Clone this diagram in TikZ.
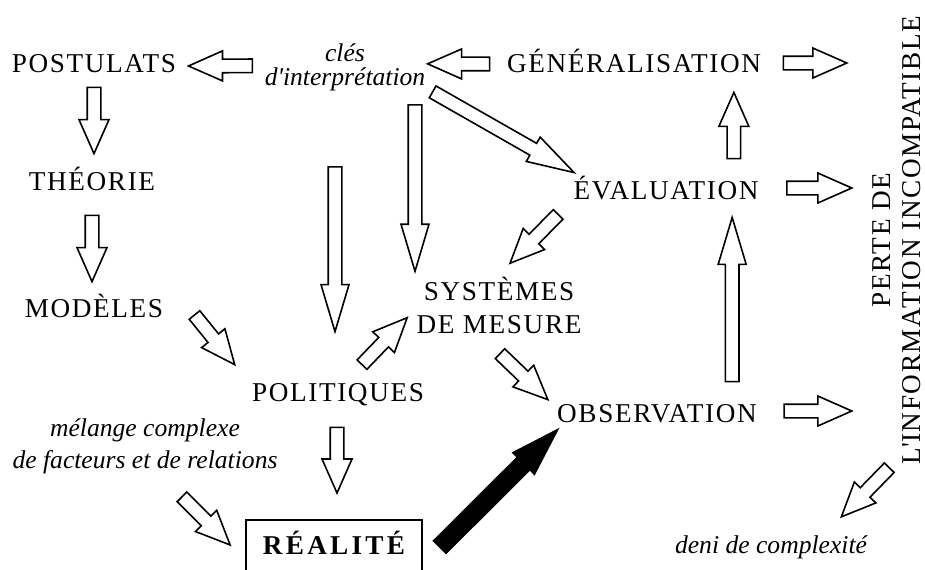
\documentclass[tikz,border=0pt]{standalone}
\usepackage{fontspec}
\setmainfont{Liberation Serif}
\newfontfamily\capsfont[LetterSpace=6]{Liberation Serif}
\usetikzlibrary{calc}

\tikzset{
  barrow/.style={draw, line width=0.8pt, fill=white, line join=miter},
  ba shaft/.store in=\bashaft, ba wing/.store in=\bawing, ba head/.store in=\bahead,
  ba shaft=3.4pt, ba wing=7.5pt, ba head=17pt,
  long head/.style={ba head=23.5pt, ba wing=7pt},
  heavy/.style={fill=black, ba shaft=4.4pt, ba wing=7.6pt, ba head=24pt},
}

\newcommand\blockarrow[3][]{%
  \path (#2) coordinate (ba-tail) (#3) coordinate (ba-tip);
  \pgfpointdiff{\pgfpointanchor{ba-tail}{center}}{\pgfpointanchor{ba-tip}{center}}%
  \pgfgetlastxy{\bax}{\bay}%
  \pgfmathsetmacro\baang{atan2(\bay,\bax)}%
  \pgfmathsetmacro\balen{veclen(\bax,\bay)}%
  \draw[barrow,#1,shift={(ba-tail)},rotate=\baang]
    (0pt,-\bashaft) -- ({\balen pt-\bahead},-\bashaft) -- ({\balen pt-\bahead},-\bawing)
    -- (\balen pt,0pt) -- ({\balen pt-\bahead},\bawing) -- ({\balen pt-\bahead},\bashaft)
    -- (0pt,\bashaft) -- cycle;
}

\begin{document}
\begin{tikzpicture}[x=0.5pt, y=-0.5pt,
    capsnode/.style={font=\capsfont\fontsize{13.6}{15}\selectfont, inner sep=0pt, text height=9pt, text depth=0pt, anchor=base},
    capsblock/.style={font=\capsfont\fontsize{13.6}{16.5}\selectfont, inner sep=0pt, align=center, anchor=base},
    italnote/.style={font=\itshape\fontsize{12.8}{16}\selectfont, inner sep=0pt, align=center, anchor=base},
    realbox/.style={draw, line width=0.8pt, font=\capsfont\bfseries\addfontfeature{LetterSpace=12}\fontsize{13.6}{16}\selectfont,
      minimum width=88pt, text height=9.5pt, text depth=4pt, inner ysep=8pt, anchor=north}]
  \useasboundingbox (0,0) rectangle (925,569);

  \node[capsnode] (post) at (94,72) {POSTULATS};
  \node[italnote, font=\itshape\fontsize{12.8}{12}\selectfont] (clef) at (345,85) {clés\\d\textquotesingle interprétation};
  \node[capsnode] (gen) at (634,72) {GÉNÉRALISATION};
  \node[capsnode] (theo) at (92,190) {THÉORIE};
  \node[capsnode] (mod) at (94,317) {MODÈLES};
  \node[capsnode] (pol) at (338,401) {POLITIQUES};
  \node[capsblock] (sys) at (499,333) {SYSTÈMES\\DE MESURE};
  \node[capsnode] (eval) at (666,199) {ÉVALUATION};
  \node[capsnode] (obs) at (657,422) {OBSERVATION};
  \node[italnote] (mix) at (145,468) {mélange complexe\\de facteurs et de relations};
  \node[realbox] (real) at (334,519) {RÉALITÉ};
  \node[italnote] (deni) at (771,553) {deni de complexité};
  \node[capsblock, font=\capsfont\fontsize{13.6}{15}\selectfont, rotate=90] (perte) at (920,240) {PERTE DE\\L\textquotesingle INFORMATION INCOMPATIBLE};

  \blockarrow{$(clef.west)+(-12,-1)$}{$(post.east)+(12,3)$}
  \blockarrow{$(gen.west)+(-17,1)$}{$(clef.east)+(2,-3)$}
  \blockarrow{$(gen.east)+(22,0)$}{$(perte.north |- gen.east)+(-25,0)$}
  \blockarrow{$(post.south)+(0,15)$}{$(post.south |- theo.north)+(0,-18)$}
  \blockarrow{$(theo.south)+(0,25)$}{$(theo.south |- mod.north)+(0,-17)$}
  \blockarrow[long head]{$(clef.south)+(-10,76)$}{$(clef.south |- pol.north)+(-10,-51)$}
  \blockarrow[long head]{$(clef.south)+(70,14)$}{$(clef.south |- sys.north)+(70,-5)$}
  \blockarrow[long head]{$(clef.south east)+(7,1)$}{$(eval.north west)+(1,-8)$}
  \blockarrow{$(eval.south west)+(-15,15)$}{$(sys.north)+(11,-13)$}
  \blockarrow{$(pol.north)+(24,-18)$}{$(sys.south west)+(-9,-16)$}
  \blockarrow{$(mod.east)+(31,7)$}{$(pol.north west)+(-17,-18)$}
  \blockarrow{$(pol.south)+(-1,26)$}{$(pol.south |- real.north)+(-1,-26)$}
  \blockarrow{$(mix.south)+(37,23)$}{$(real.north west)+(-15,26)$}
  \blockarrow[heavy]{$(real.north east)+(17,28)$}{$(obs.south west)+(1,7)$}
  \blockarrow{$(sys.south)+(1,20)$}{$(obs.north west)+(-9,-4)$}
  \blockarrow{$(obs.east)+(27,-2)$}{$(perte.north |- obs.east)+(-20,-2)$}
  \blockarrow[long head]{$(obs.north east)+(-25,-22)$}{$(obs.north east |- eval.south)+(-25,18)$}
  \blockarrow{$(eval.east)+(28,-2)$}{$(perte.north |- eval.east)+(-20,-2)$}
  \blockarrow{$(eval.north east)+(-25,-22)$}{$(eval.north east |- gen.south)+(-25,20)$}
  \blockarrow{$(perte.west)+(-7,3)$}{$(deni.north east)+(-26,-18)$}
\end{tikzpicture}
\end{document}
